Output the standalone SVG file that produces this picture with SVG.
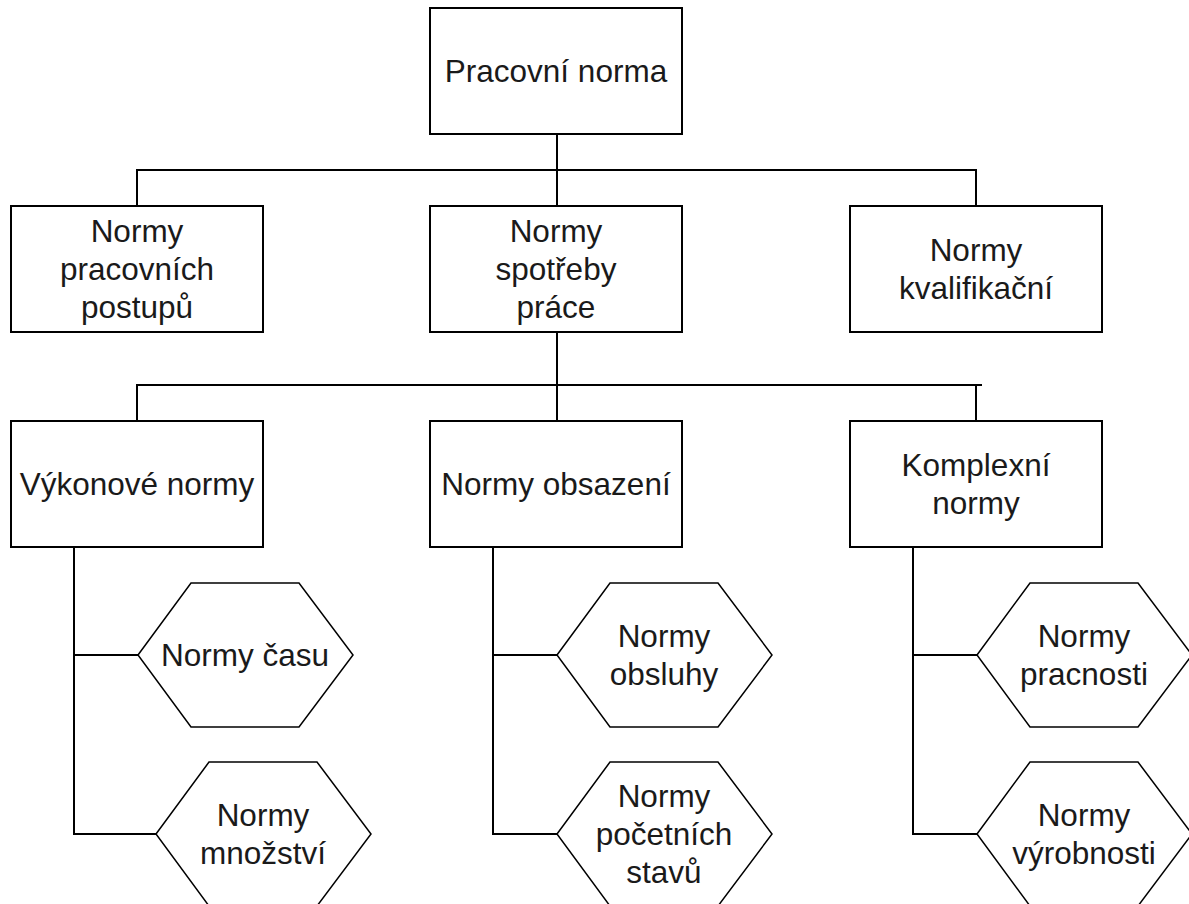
<svg xmlns="http://www.w3.org/2000/svg" width="1189" height="904" viewBox="0 0 1189 904">
  <style>
    .box { fill: #ffffff; stroke: #000000; stroke-width: 2; }
    .hex { fill: #ffffff; stroke: #000000; stroke-width: 1.5; }
    .link { fill: none; stroke: #000000; stroke-width: 2; }
    .label { font-family: "Liberation Sans", Arial, sans-serif; font-size: 31.5px; fill: #1a1a1a; text-anchor: middle; }
  </style>
  <rect width="1189" height="904" fill="#ffffff"/>

  <!-- tree connectors -->
  <g id="connectors">
    <path class="link" d="M557 134 V206 M137 206 V170 H976 V206"/>
    <path class="link" d="M557 332 V421 M137 421 V385 H982 M976 385 V421"/>
    <path class="link" d="M74 547 V834 H156 M74 655 H138"/>
    <path class="link" d="M493 547 V834 H557 M493 655 H557"/>
    <path class="link" d="M913 547 V834 H977 M913 655 H977"/>
  </g>

  <!-- level 1 -->
  <g id="pracovni-norma">
    <rect class="box" x="430" y="8" width="252" height="126"/>
    <text class="label" x="556" y="82">Pracovní norma</text>
  </g>

  <!-- level 2 -->
  <g id="normy-pracovnich-postupu">
    <rect class="box" x="11" y="206" width="252" height="126"/>
    <text class="label" x="137" y="242">Normy</text>
    <text class="label" x="137" y="280">pracovních</text>
    <text class="label" x="137" y="318">postupů</text>
  </g>
  <g id="normy-spotreby-prace">
    <rect class="box" x="430" y="206" width="252" height="126"/>
    <text class="label" x="556" y="242">Normy</text>
    <text class="label" x="556" y="280">spotřeby</text>
    <text class="label" x="556" y="318">práce</text>
  </g>
  <g id="normy-kvalifikacni">
    <rect class="box" x="850" y="206" width="252" height="126"/>
    <text class="label" x="976" y="261">Normy</text>
    <text class="label" x="976" y="299">kvalifikační</text>
  </g>

  <!-- level 3 -->
  <g id="vykonove-normy">
    <rect class="box" x="11" y="421" width="252" height="126"/>
    <text class="label" x="137" y="495">Výkonové normy</text>
  </g>
  <g id="normy-obsazeni">
    <rect class="box" x="430" y="421" width="252" height="126"/>
    <text class="label" x="556" y="495">Normy obsazení</text>
  </g>
  <g id="komplexni-normy">
    <rect class="box" x="850" y="421" width="252" height="126"/>
    <text class="label" x="976" y="476">Komplexní</text>
    <text class="label" x="976" y="514">normy</text>
  </g>

  <!-- leaves -->
  <g id="normy-casu">
    <polygon class="hex" points="138,655 191,583 299,583 353,655 299,727 191,727"/>
    <text class="label" x="245" y="666">Normy času</text>
  </g>
  <g id="normy-mnozstvi">
    <polygon class="hex" points="156,834 209,762 317,762 371,834 317,906 209,906"/>
    <text class="label" x="263" y="826">Normy</text>
    <text class="label" x="263" y="864">množství</text>
  </g>
  <g id="normy-obsluhy">
    <polygon class="hex" points="557,655 610,583 718,583 772,655 718,727 610,727"/>
    <text class="label" x="664" y="647">Normy</text>
    <text class="label" x="664" y="685">obsluhy</text>
  </g>
  <g id="normy-poctu-stavu">
    <polygon class="hex" points="557,834 610,762 718,762 772,834 718,906 610,906"/>
    <text class="label" x="664" y="807">Normy</text>
    <text class="label" x="664" y="845">početních</text>
    <text class="label" x="664" y="883">stavů</text>
  </g>
  <g id="normy-pracnosti">
    <polygon class="hex" points="977,655 1030,583 1138,583 1192,655 1138,727 1030,727"/>
    <text class="label" x="1084" y="647">Normy</text>
    <text class="label" x="1084" y="685">pracnosti</text>
  </g>
  <g id="normy-vyrobnosti">
    <polygon class="hex" points="977,834 1030,762 1138,762 1192,834 1138,906 1030,906"/>
    <text class="label" x="1084" y="826">Normy</text>
    <text class="label" x="1084" y="864">výrobnosti</text>
  </g>
</svg>
